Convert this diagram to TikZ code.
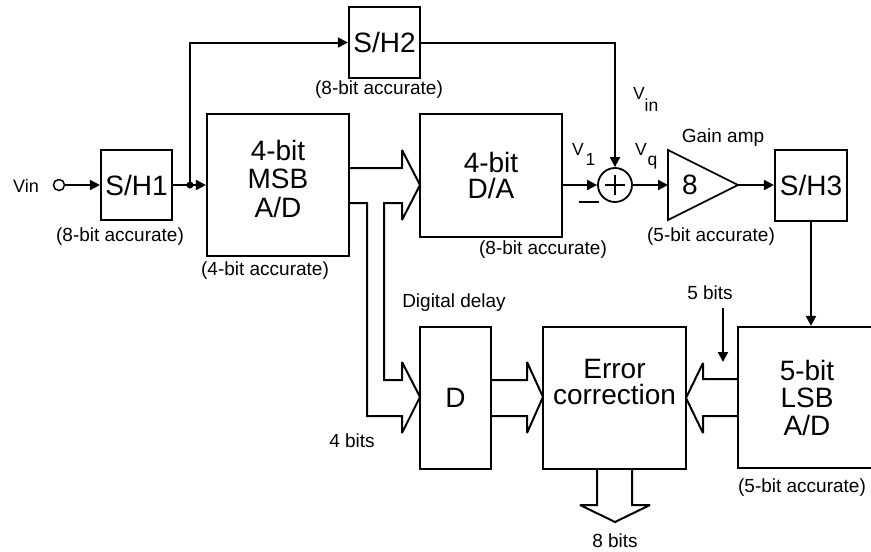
\documentclass[tikz,border=0pt]{standalone}
\usepackage{fontspec}
\setmainfont{Liberation Sans}
\usetikzlibrary{arrows.meta}
\begin{document}
\begin{tikzpicture}[x=1pt,y=-1pt,
  line width=2pt,
  box/.style={draw,line width=2.2pt,inner sep=0pt,rectangle},
  bigtxt/.style={font=\fontsize{28}{28}\selectfont,align=center},
  lbl/.style={font=\fontsize{19}{22}\selectfont,inner sep=0pt},
  vlbl/.style={font=\fontsize{17.5}{20}\selectfont,inner sep=0pt},
  arr/.style={-{Triangle[length=10pt,width=10pt]}},
  bus/.style={line width=2pt,line join=miter,miter limit=3}]
\useasboundingbox (0,0) rectangle (871,552);
\clip (0,0) rectangle (871,552);

% blocks
\node[box,minimum width=71pt,minimum height=70pt,bigtxt] (sh1) at (136.5,185) {S/H1};
\node[box,minimum width=142pt,minimum height=142pt] (msb) at (278,185) {};
\node[bigtxt,font=\fontsize{28}{28.5}\selectfont] (msbt) at (278,178.5) {4-bit\\MSB\\A/D};
\node[box,minimum width=71pt,minimum height=71pt,bigtxt] (sh2) at (384.5,42.5) {S/H2};
\node[box,minimum width=142pt,minimum height=123pt,bigtxt,font=\fontsize{28}{26}\selectfont] (da) at (491,175.5) {4-bit\\D/A};
\node[draw,circle,line width=1.8pt,minimum size=34pt,inner sep=0pt] (sum) at (615,185) {};
\coordinate (ampin) at (668,185);
\coordinate (ampout) at (738,185);
\draw[line join=miter,line width=1.6pt] (668,150) -- (ampout) -- (668,220) -- cycle;
\node[bigtxt] (ampt) at (690,185) {8};
\node[box,minimum width=72pt,minimum height=71pt,bigtxt] (sh3) at (811,185.5) {S/H3};
\node[box,minimum width=138pt,minimum height=141pt,bigtxt,font=\fontsize{28}{27.5}\selectfont] (lsb) at (807,397.5) {5-bit\\LSB\\A/D};
\node[box,minimum width=143pt,minimum height=142pt] (ec) at (614.5,398) {};
\node[bigtxt,font=\fontsize{28}{26}\selectfont] (ect) at (614.5,381.5) {Error\\correction};
\node[box,minimum width=71pt,minimum height=142pt,bigtxt] (dd) at (455.5,398) {D};

% input
\node[draw,circle,line width=1.5pt,minimum size=11pt,inner sep=0pt] (vc) at (59,185) {};
\node[vlbl,font=\fontsize{18}{20}\selectfont] (vin) at (26,186) {Vin};
\draw[arr] (vc) -- (sh1);

\coordinate (j) at (190,185);
\draw (sh1.east) -- (j);
\draw[arr] (j) -- (msb.west);
\draw[arr] (j) |- (sh2.west);
\fill (j) circle (3.5pt);

\draw[arr] (sh2.east) -| (sum.north);
\draw[arr] (da.east |- sum.west) -- (sum.west);
\draw[arr] (sum.east) -- (ampin);
\draw[arr] (ampout) -- (ampout -| sh3.west);
\draw[arr] (sh3.south) -- (sh3.south |- lsb.north);

% plus and minus
\draw[line width=1.6pt] ([xshift=-10pt]sum.center) -- ([xshift=10pt]sum.center);
\draw[line width=1.6pt] ([yshift=-10pt]sum.center) -- ([yshift=10pt]sum.center);
\draw (579,202) -- (599,202);

% 5 bits marker
\coordinate (fbA) at (723,308);
\coordinate (fbB) at (723,362);
\draw[arr] (fbA) -- (fbB);

% buses
\draw[bus] (349,168) -- (402,168) -- (402,150) -- (420,185) -- (402,220) -- (402,203)
  -- (384,203) -- (384,380) -- (402,380) -- (402,362) -- (420,397) -- (402,433)
  -- (402,416) -- (367,416) -- (367,203) -- (349,203);
\draw[bus] (491,380) -- (527,380) -- (527,362) -- (543,397) -- (527,433) -- (527,416) -- (491,416);
\draw[bus] (738,379) -- (703,379) -- (703,363) -- (686,398) -- (703,433) -- (703,416) -- (738,416);
\draw[bus] (597,469) -- (597,505) -- (580,505) -- (615,522) -- (650,505) -- (632,505) -- (632,469);

% labels
\node[lbl] (a1) at (120,237) {(8-bit accurate)};
\node[lbl] (a2) at (379,90) {(8-bit accurate)};
\node[lbl] (a3) at (265,271) {(4-bit accurate)};
\node[lbl] (a4) at (543,250) {(8-bit accurate)};
\node[lbl] (ga) at (723,138) {Gain amp};
\node[lbl] (a5) at (711,237) {(5-bit accurate)};
\node[lbl] (dl) at (454,303) {Digital delay};
\node[lbl] (b4) at (352,441) {4 bits};
\node[lbl] (b5) at (710,293) {5 bits};
\node[lbl] (a6) at (802,488) {(5-bit accurate)};
\node[lbl] (b8) at (615,541) {8 bits};

\node[vlbl,anchor=base west] (vinl) at (632,99) {V\raisebox{-12pt}{in}};
\node[vlbl,anchor=base west] (v1l) at (571,155) {V\kern2pt\raisebox{-10pt}{1}};
\node[vlbl,anchor=base west] (vql) at (634,155) {V\kern1pt\raisebox{-10pt}{q}};
\end{tikzpicture}
\end{document}
